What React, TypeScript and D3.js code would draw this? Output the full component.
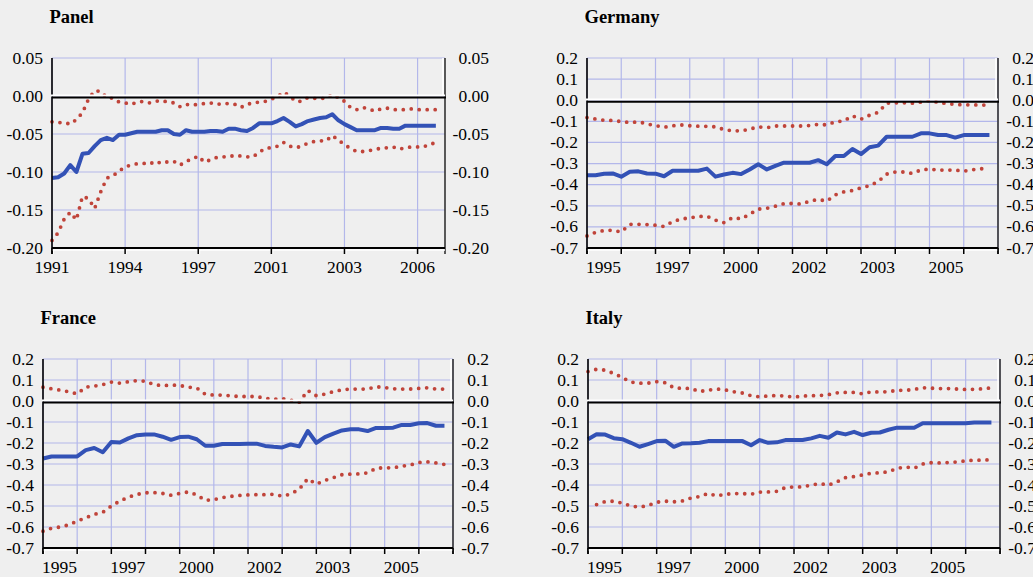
import React from 'react';
import * as d3 from 'd3';

// ---------- data ----------
const panelYears = ['1991', '1994', '1997', '2001', '2003', '2006'];
const countryYears = ['1995', '1997', '2000', '2002', '2003', '2005'];
const panelYTicks = [0.05, 0, -0.05, -0.1, -0.15, -0.2];
const countryYTicks = [0.2, 0.1, 0, -0.1, -0.2, -0.3, -0.4, -0.5, -0.6, -0.7];

const panelEst = [-0.108,-0.107,-0.102,-0.091,-0.100,-0.076,-0.075,-0.066,-0.058,-0.055,
 -0.058,-0.051,-0.051,-0.049,-0.047,-0.047,-0.047,-0.047,-0.045,-0.045,
 -0.050,-0.051,-0.045,-0.047,-0.047,-0.047,-0.046,-0.046,-0.047,-0.043,
 -0.043,-0.045,-0.046,-0.042,-0.036,-0.036,-0.036,-0.033,-0.029,-0.034,
 -0.040,-0.037,-0.033,-0.031,-0.029,-0.028,-0.024,-0.032,-0.037,-0.041,
 -0.045,-0.045,-0.045,-0.045,-0.042,-0.042,-0.043,-0.043,-0.039,-0.039,
 -0.039,-0.039,-0.039,-0.039];
const panelUpper = [-0.034,-0.035,-0.035,-0.037,-0.031,-0.022,-0.004,0.007,0.006,-0.002,
 -0.003,-0.008,-0.009,-0.011,-0.008,-0.007,-0.009,-0.007,-0.006,-0.008,
 -0.009,-0.014,-0.011,-0.012,-0.011,-0.010,-0.009,-0.011,-0.010,-0.010,
 -0.011,-0.015,-0.011,-0.009,-0.008,-0.007,-0.004,-0.001,0.005,0.000,
 -0.007,-0.007,-0.002,-0.003,-0.003,-0.003,0.002,-0.002,-0.007,-0.015,
 -0.018,-0.015,-0.017,-0.020,-0.017,-0.016,-0.018,-0.018,-0.018,-0.017,
 -0.018,-0.018,-0.018,-0.018];
const panelLower = [-0.190,-0.180,-0.162,-0.153,-0.163,-0.132,-0.135,-0.148,-0.126,-0.108,
 -0.105,-0.099,-0.093,-0.091,-0.089,-0.089,-0.087,-0.090,-0.086,-0.087,
 -0.086,-0.091,-0.086,-0.083,-0.079,-0.087,-0.084,-0.081,-0.080,-0.080,
 -0.078,-0.079,-0.080,-0.080,-0.074,-0.069,-0.068,-0.066,-0.061,-0.066,
 -0.068,-0.066,-0.062,-0.060,-0.059,-0.059,-0.052,-0.058,-0.064,-0.069,
 -0.073,-0.073,-0.072,-0.070,-0.069,-0.068,-0.067,-0.070,-0.068,-0.067,
 -0.067,-0.067,-0.063,-0.062];

const germanyEst = [-0.355,-0.355,-0.348,-0.347,-0.362,-0.339,-0.337,-0.347,-0.348,-0.360,
 -0.334,-0.334,-0.334,-0.334,-0.324,-0.362,-0.352,-0.344,-0.350,-0.328,
 -0.303,-0.328,-0.311,-0.296,-0.296,-0.296,-0.296,-0.284,-0.303,-0.264,
 -0.264,-0.231,-0.255,-0.223,-0.215,-0.173,-0.173,-0.173,-0.173,-0.157,
 -0.157,-0.165,-0.165,-0.177,-0.165,-0.165,-0.165,-0.165];
const germanyUpper = [-0.082,-0.089,-0.095,-0.096,-0.101,-0.106,-0.102,-0.112,-0.120,-0.128,
 -0.121,-0.117,-0.121,-0.123,-0.124,-0.126,-0.139,-0.145,-0.145,-0.137,
 -0.126,-0.130,-0.122,-0.122,-0.122,-0.122,-0.120,-0.114,-0.117,-0.102,
 -0.098,-0.074,-0.090,-0.071,-0.058,-0.014,-0.012,-0.012,-0.014,-0.009,
 -0.001,-0.010,-0.016,-0.020,-0.022,-0.022,-0.023,-0.023];
const germanyLower = [-0.643,-0.626,-0.617,-0.616,-0.624,-0.588,-0.588,-0.589,-0.592,-0.598,
 -0.575,-0.563,-0.557,-0.551,-0.549,-0.568,-0.580,-0.556,-0.562,-0.540,
 -0.516,-0.512,-0.502,-0.490,-0.489,-0.492,-0.478,-0.470,-0.478,-0.448,
 -0.434,-0.428,-0.415,-0.405,-0.385,-0.350,-0.340,-0.340,-0.347,-0.330,
 -0.326,-0.331,-0.331,-0.331,-0.336,-0.329,-0.325,-0.320];

const franceEst = [-0.274,-0.264,-0.264,-0.264,-0.264,-0.234,-0.224,-0.244,-0.195,-0.198,
 -0.178,-0.163,-0.159,-0.159,-0.170,-0.185,-0.172,-0.170,-0.182,-0.213,
 -0.213,-0.205,-0.205,-0.205,-0.203,-0.203,-0.214,-0.218,-0.221,-0.207,
 -0.216,-0.143,-0.199,-0.172,-0.155,-0.140,-0.135,-0.135,-0.143,-0.128,
 -0.128,-0.127,-0.114,-0.114,-0.106,-0.105,-0.118,-0.118];
const franceUpper = [0.066,0.058,0.052,0.044,0.034,0.066,0.071,0.078,0.090,0.085,
 0.092,0.097,0.094,0.078,0.073,0.076,0.074,0.066,0.062,0.032,
 0.028,0.028,0.025,0.021,0.022,0.021,0.013,0.008,0.012,0.004,
 -0.006,0.050,0.025,0.033,0.045,0.053,0.057,0.057,0.057,0.068,
 0.064,0.058,0.057,0.057,0.060,0.063,0.057,0.057];
const franceLower = [-0.620,-0.606,-0.600,-0.590,-0.572,-0.556,-0.540,-0.530,-0.500,-0.476,
 -0.458,-0.445,-0.437,-0.436,-0.440,-0.449,-0.440,-0.433,-0.447,-0.473,
 -0.470,-0.460,-0.454,-0.450,-0.447,-0.446,-0.446,-0.444,-0.453,-0.443,
 -0.420,-0.370,-0.396,-0.378,-0.365,-0.351,-0.348,-0.347,-0.342,-0.320,
 -0.318,-0.318,-0.310,-0.305,-0.293,-0.290,-0.295,-0.302];

const italyEst = [-0.182,-0.158,-0.160,-0.177,-0.182,-0.199,-0.218,-0.205,-0.191,-0.189,
 -0.218,-0.202,-0.201,-0.199,-0.191,-0.191,-0.191,-0.191,-0.191,-0.211,
 -0.186,-0.199,-0.197,-0.186,-0.186,-0.186,-0.178,-0.166,-0.175,-0.150,
 -0.159,-0.147,-0.162,-0.151,-0.150,-0.137,-0.127,-0.127,-0.127,-0.106,
 -0.106,-0.106,-0.106,-0.106,-0.106,-0.102,-0.102,-0.102];
const italyUpper = [0.140,0.151,0.147,0.131,0.112,0.090,0.085,0.085,0.092,0.087,
 0.063,0.060,0.060,0.045,0.052,0.057,0.053,0.044,0.038,0.025,
 0.020,0.024,0.026,0.024,0.018,0.024,0.025,0.026,0.030,0.039,
 0.041,0.041,0.034,0.044,0.043,0.044,0.051,0.051,0.055,0.063,
 0.061,0.059,0.059,0.057,0.055,0.056,0.058,0.063];
const italyLower = [null,-0.493,-0.479,-0.477,-0.486,-0.500,-0.505,-0.498,-0.482,-0.477,
 -0.480,-0.476,-0.462,-0.455,-0.440,-0.452,-0.444,-0.441,-0.441,-0.444,
 -0.434,-0.433,-0.430,-0.412,-0.409,-0.409,-0.400,-0.393,-0.401,-0.385,
 -0.365,-0.360,-0.352,-0.344,-0.342,-0.337,-0.321,-0.314,-0.320,-0.300,
 -0.294,-0.295,-0.293,-0.290,-0.285,-0.282,-0.282,-0.279];

// ---------- layout ----------
type Cfg = {
  title: string; left: number; right: number; top: number; bottom: number;
  yDomain: [number, number]; yTicks: number[]; fmt: string;
  xMax: number; gridEvery: number; labelEvery: number; labels: string[];
  labelAnchor: 'middle' | 'start'; rightLabelOffset: number;
  series: { est: (number | null)[]; upper: (number | null)[]; lower: (number | null)[] };
};

const panels: Cfg[] = [
  { title: 'Panel', left: 52, right: 445, top: 58, bottom: 248, yDomain: [-0.2, 0.05], yTicks: panelYTicks, fmt: '.2f',
    xMax: 64.5, gridEvery: 12, labelEvery: 12, labels: panelYears, labelAnchor: 'middle', rightLabelOffset: 44,
    series: { est: panelEst, upper: panelUpper, lower: panelLower } },
  { title: 'Germany', left: 587, right: 998, top: 58, bottom: 248, yDomain: [-0.7, 0.2], yTicks: countryYTicks, fmt: '.1f',
    xMax: 48, gridEvery: 4, labelEvery: 8, labels: countryYears, labelAnchor: 'start', rightLabelOffset: 36,
    series: { est: germanyEst, upper: germanyUpper, lower: germanyLower } },
  { title: 'France', left: 43, right: 453, top: 359, bottom: 548, yDomain: [-0.7, 0.2], yTicks: countryYTicks, fmt: '.1f',
    xMax: 48, gridEvery: 4, labelEvery: 8, labels: countryYears, labelAnchor: 'start', rightLabelOffset: 36,
    series: { est: franceEst, upper: franceUpper, lower: franceLower } },
  { title: 'Italy', left: 588, right: 1000, top: 359, bottom: 548, yDomain: [-0.7, 0.2], yTicks: countryYTicks, fmt: '.1f',
    xMax: 48, gridEvery: 4, labelEvery: 8, labels: countryYears, labelAnchor: 'start', rightLabelOffset: 36,
    series: { est: italyEst, upper: italyUpper, lower: italyLower } },
];

const BG = '#efefef';
const GRID = '#b3b7ea';
const BLUE = '#3352b6';
const RED = '#c0443a';
const FONT = "'Liberation Serif', 'Times New Roman', Times, 'DejaVu Serif', serif";

function Chart({ c }: { c: Cfg }) {
  const x = d3.scaleLinear().domain([0, c.xMax]).range([c.left, c.right]);
  const y = d3.scaleLinear().domain(c.yDomain).range([c.bottom, c.top]);
  const f = d3.format(c.fmt);
  const fmt = (v: number) => f(v).replace('\u2212', '-');
  const line = d3.line<number | null>()
    .defined((d) => d != null)
    .x((_, i) => x(i))
    .y((d) => y(d as number));
  const gridIdx: number[] = [];
  for (let k = 0; k * c.gridEvery <= c.xMax + 0.01; k++) gridIdx.push(k * c.gridEvery);
  const y0 = y(0);
  const tickLen = 6;
  const txt = { fontFamily: FONT, fontSize: '17.5px' } as React.CSSProperties;
  return (
    <g>
      <text x={c.left - 2.5} y={c.top - 35} style={{ fontFamily: FONT, fontSize: '18.5px', fontWeight: 'bold' }} fill="#000">{c.title}</text>
      {/* gridlines */}
      {c.yTicks.map((t) => (
        <line key={'h' + t} x1={c.left} x2={c.right} y1={y(t)} y2={y(t)} stroke={GRID} strokeWidth={1.2} />
      ))}
      {gridIdx.map((g) => (
        <line key={'v' + g} x1={x(g)} x2={x(g)} y1={c.top} y2={c.bottom} stroke={GRID} strokeWidth={1.2} />
      ))}
      {/* series */}
      <path d={line(c.series.upper) || ''} fill="none" stroke={RED} strokeWidth={3.8} strokeLinecap="round" strokeDasharray="0 8" />
      <path d={line(c.series.lower) || ''} fill="none" stroke={RED} strokeWidth={3.8} strokeLinecap="round" strokeDasharray="0 8" />
      <path d={line(c.series.est) || ''} fill="none" stroke={BLUE} strokeWidth={4} strokeLinejoin="round" />
      {/* axes */}
      <line x1={c.left} x2={c.left} y1={c.top} y2={c.bottom + tickLen} stroke="#000" strokeWidth={1.6} />
      <line x1={c.right - 2} x2={c.right - 2} y1={c.top} y2={y0 - 1} stroke="#fff" strokeWidth={1.6} />
      <line x1={c.right} x2={c.right} y1={c.top} y2={c.bottom + tickLen} stroke="#333" strokeWidth={1.6} />
      <line x1={c.left - 1} x2={c.right} y1={y0 - 0.6} y2={y0 - 0.6} stroke="#fff" strokeWidth={2} />
      <line x1={c.left} x2={c.right + 1} y1={y0 + 1.6} y2={y0 + 1.6} stroke="#000" strokeWidth={2} />
      <line x1={c.left} x2={c.right} y1={c.bottom + 2} y2={c.bottom + 2} stroke="#fff" strokeWidth={1.4} />
      <line x1={c.left} x2={c.right} y1={c.bottom} y2={c.bottom} stroke="#000" strokeWidth={1.8} />
      {gridIdx.map((g) => (
        <g key={'t' + g}>
          <line x1={x(g) + 1.5} x2={x(g) + 1.5} y1={c.bottom + 2} y2={c.bottom + tickLen} stroke="#fff" strokeWidth={1} />
          <line x1={x(g)} x2={x(g)} y1={c.bottom} y2={c.bottom + tickLen} stroke="#000" strokeWidth={1.5} />
        </g>
      ))}
      {/* y labels */}
      {c.yTicks.map((t) => (
        <g key={'yl' + t}>
          <text x={c.left - 9} y={y(t) + 5.5} textAnchor="end" style={txt} fill="#000">{fmt(t)}</text>
          <text x={c.right + c.rightLabelOffset} y={y(t) + 5.5} textAnchor="end" style={txt} fill="#000">{fmt(t)}</text>
        </g>
      ))}
      {/* x labels */}
      {c.labels.map((lab, k) => (
        <text key={'xl' + k} x={x(k * c.labelEvery) - (c.labelAnchor === 'start' ? 1 : 0)} y={c.bottom + 25}
          textAnchor={c.labelAnchor} style={txt} fill="#000">{lab}</text>
      ))}
    </g>
  );
}

export default function App() {
  return (
    <svg width={1033} height={577} style={{ position: 'absolute', left: 0, top: 0, display: 'block', fontFamily: FONT }}>
      <rect x={0} y={0} width={1033} height={577} fill={BG} />
      {panels.map((c) => <Chart key={c.title} c={c} />)}
    </svg>
  );
}
